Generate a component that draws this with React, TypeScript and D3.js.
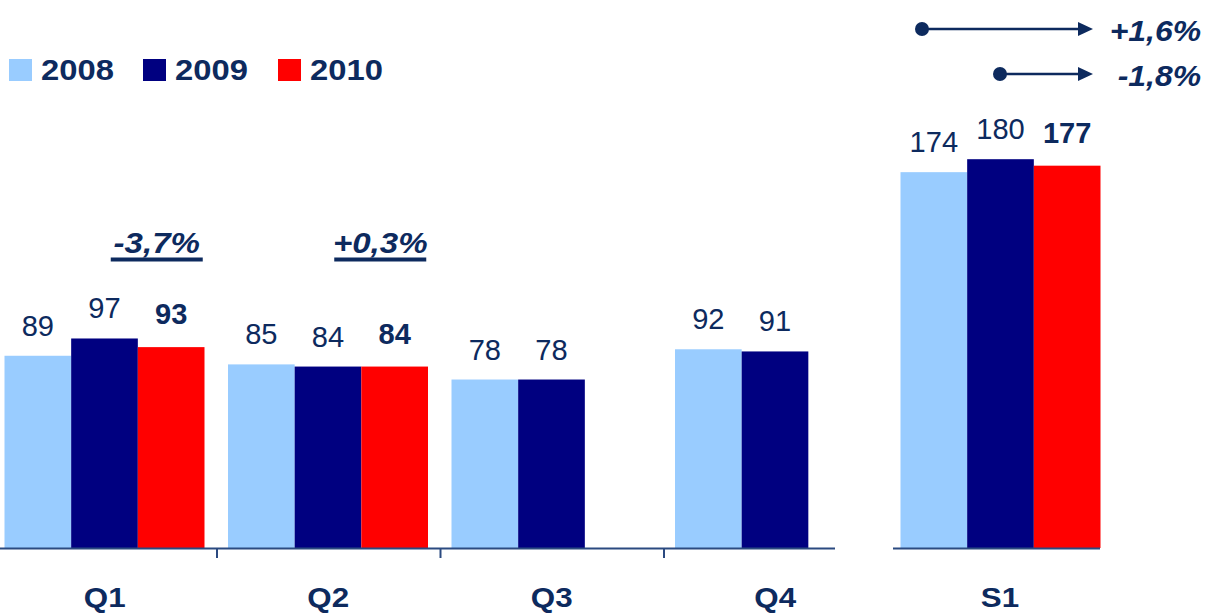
import React from "react";
import * as d3 from "d3";

const categories = ["Q1", "Q2", "Q3", "Q4"];
const totalCategory = "S1";
const series = ["2008", "2009", "2010"];
const values2008 = [89, 85, 78, 92];
const values2009 = [97, 84, 78, 91];
const values2010: (number | null)[] = [93, 84, null, null];
const totals = [174, 180, 177];
const quarterChanges = [
  { category: "Q1", label: "-3,7%" },
  { category: "Q2", label: "+0,3%" },
];
const totalChanges = ["+1,6%", "-1,8%"];

const colors = ["#99ccff", "#000080", "#ff0000"];
const textColor = "#0d2a5e";
const axisColor = "#2b4a80";
const FONT = "'Liberation Sans', Arial, sans-serif";

type STProps = {
  x: number;
  y: number;
  sx?: number;
  anchor?: "start" | "middle" | "end";
  size: number;
  bold?: boolean;
  italic?: boolean;
  children: React.ReactNode;
};
function SText({ x, y, sx = 1, anchor = "start", size, bold, italic, children }: STProps) {
  return (
    <text
      transform={`translate(${x},${y}) scale(${sx},1)`}
      textAnchor={anchor}
      fontSize={size}
      fontWeight={bold ? "bold" : "normal"}
      fontStyle={italic ? "italic" : "normal"}
      fill={textColor}
      fontFamily={FONT}
    >
      {children}
    </text>
  );
}

export default function App() {
  const W = 1212;
  const H = 615;
  const baseY = 548;
  const y = d3.scaleLinear().domain([0, 200]).range([baseY, baseY - 432]);
  const x0 = d3.scaleBand<string>().domain(categories).range([-7, 887]).padding(0);
  const xS = d3.scaleBand<string>().domain([totalCategory]).range([889, 1111]).padding(0);
  const x1 = d3.scaleBand<string>().domain(series).range([11.5, 211.5]).padding(0);

  const quarterData = categories.map((c, i) => ({
    cat: c,
    vals: [values2008[i], values2009[i], values2010[i]],
  }));

  const bars: React.ReactNode[] = [];
  const labels: React.ReactNode[] = [];
  const drawGroup = (gx: number, vals: (number | null)[], key: string) => {
    vals.forEach((v, si) => {
      if (v == null) return;
      const bx = gx + (x1(series[si]) as number);
      const bw = x1.bandwidth();
      bars.push(
        <rect key={`${key}-b-${si}`} x={bx} y={y(v)} width={bw} height={baseY - y(v)} fill={colors[si]} />
      );
      const bold = si === 2;
      labels.push(
        <SText key={`${key}-l-${si}`} x={bx + bw / 2} y={y(v) - (bold ? 23 : 20)} anchor="middle" size={30} sx={0.97} bold={bold}>
          {v}
        </SText>
      );
    });
  };
  quarterData.forEach((d) => drawGroup(x0(d.cat) as number, d.vals, d.cat));
  drawGroup(xS(totalCategory) as number, totals, totalCategory);

  const legendX = [9, 143, 278];
  const arrowTip = 1093;

  return (
    <svg width={W} height={H} style={{ position: "absolute", left: 0, top: 0, background: "#fff" }}>
      {bars}
      {labels}
      {/* axes */}
      <line x1={0} x2={835} y1={baseY + 0.5} y2={baseY + 0.5} stroke={axisColor} strokeWidth={2} />
      {categories.slice(1).map((c) => (
        <line key={`t-${c}`} x1={(x0(c) as number) + 0.5} x2={(x0(c) as number) + 0.5} y1={baseY} y2={baseY + 10} stroke={axisColor} strokeWidth={2} />
      ))}
      <line x1={893} x2={1100} y1={baseY + 0.5} y2={baseY + 0.5} stroke={axisColor} strokeWidth={2} />
      {[...categories, totalCategory].map((c) => {
        const cx = c === totalCategory ? (xS(c) as number) + xS.bandwidth() / 2 : (x0(c) as number) + x0.bandwidth() / 2;
        return (
          <SText key={`c-${c}`} x={cx} y={607} anchor="middle" size={28} sx={1.12} bold>
            {c}
          </SText>
        );
      })}
      {/* quarter change annotations */}
      {quarterChanges.map((q) => {
        const cx = (x0(q.category) as number) + x0.bandwidth() / 2 + 52;
        return (
          <g key={`qc-${q.category}`}>
            <SText x={cx} y={253} anchor="middle" size={29} sx={1.14} bold italic>
              {q.label}
            </SText>
            <line x1={cx - 46} x2={cx + 46} y1={259.5} y2={259.5} stroke={textColor} strokeWidth={4} />
          </g>
        );
      })}
      {/* total change arrows */}
      {totalChanges.map((t, i) => {
        const yy = i === 0 ? 29 : 74;
        const sx = i === 0 ? 922 : 1000;
        return (
          <g key={`tc-${i}`}>
            <circle cx={sx} cy={yy} r={7} fill={textColor} />
            <line x1={sx} x2={arrowTip - 12} y1={yy} y2={yy} stroke={textColor} strokeWidth={2.5} />
            <path d={`M${arrowTip - 15},${yy - 7} L${arrowTip},${yy} L${arrowTip - 15},${yy + 7} Z`} fill={textColor} />
            <SText x={1201} y={yy + 12} anchor="end" size={29} sx={1.1} bold italic>
              {t}
            </SText>
          </g>
        );
      })}
      {/* legend */}
      {series.map((s, i) => (
        <g key={`lg-${s}`}>
          <rect x={legendX[i]} y={59} width={23} height={22} fill={colors[i]} />
          <SText x={legendX[i] + 32} y={80} size={29} sx={1.13} bold>
            {s}
          </SText>
        </g>
      ))}
    </svg>
  );
}
